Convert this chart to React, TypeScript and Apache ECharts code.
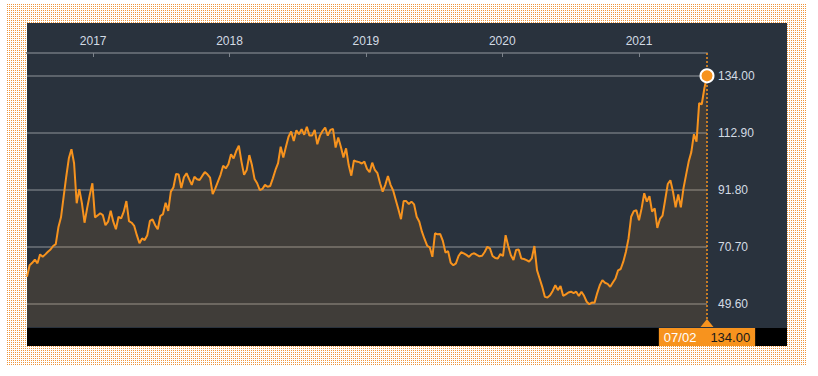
import React, { useEffect, useRef } from "react";
import * as echarts from "echarts";

// Weekly closes, first Friday 2016-07-08, last Friday 2021-07-02
const FIRST_WEEK = [2016, 6, 8];
const values = [
  59.7, 64.0, 64.9, 66.1, 64.7, 68.0, 67.1, 68.0, 69.0, 69.8, 71.1, 71.8, 78.0, 81.7, 89.3, 96.7,
  103.5, 106.9, 101.7, 86.9, 92.1, 86.9, 79.7, 85.1, 90.0, 94.3, 81.7, 82.4, 83.2, 82.5, 78.8, 80.1,
  84.1, 80.1, 77.3, 81.9, 81.3, 83.8, 87.7, 80.3, 79.7, 78.5, 75.1, 72.1, 73.9, 73.3, 75.1, 80.4,
  80.9, 78.8, 77.3, 82.2, 82.9, 87.1, 84.1, 91.2, 92.8, 97.7, 97.5, 92.5, 96.5, 98.0, 95.8, 93.7,
  96.7, 95.8,
  95.5, 97.0, 98.4, 97.6, 96.4, 90.3, 92.4, 94.9, 97.4, 100.8, 99.8, 101.3, 105.0, 103.5, 106.2, 108.2,
  102.3, 97.4, 99.2, 104.7, 101.0, 95.9, 94.3, 91.8, 92.2, 93.7, 93.0, 93.3, 96.1, 99.2, 101.7, 107.8,
  103.8, 107.8, 111.5, 113.4, 109.9, 113.9, 112.4, 114.3, 112.2, 115.2, 111.9, 111.9, 114.0, 108.7, 111.9, 113.6,
  114.9, 111.9, 114.0, 114.4, 107.5, 111.2, 107.8, 103.8, 107.2, 101.0, 97.1, 102.7, 102.3, 102.1, 101.6, 102.3,
  99.6, 98.4,
  101.9, 99.2, 98.0, 94.3, 91.2, 93.7, 97.0, 93.7, 91.6, 88.1, 84.7, 81.0, 87.7, 87.7, 86.6, 87.5,
  86.5, 81.9, 80.1, 76.4, 73.7, 71.2, 70.6, 67.1, 75.8, 75.4, 75.5, 73.0, 68.7, 69.2, 64.9, 64.0,
  64.7, 67.4, 68.8, 68.4, 67.8, 67.1, 68.1, 68.4, 67.8, 67.3, 67.5, 68.9, 70.8, 70.2, 67.4, 66.7,
  66.5, 68.1, 67.4, 75.1, 71.1, 67.7, 65.9, 69.6, 69.8, 66.5, 66.3, 65.9, 65.3, 66.5, 71.1,
  62.2, 59.1, 56.0, 52.3, 52.1, 52.9, 54.5, 56.6, 54.8, 56.3, 52.7, 53.2, 53.9, 54.2, 53.7, 54.2,
  52.6, 54.2, 52.7, 50.5, 49.6, 50.2, 50.1, 53.6, 56.6, 58.5, 57.5, 57.1, 56.0, 57.6, 59.1, 62.1,
  62.6, 65.3, 69.0, 73.9, 81.9, 84.0, 84.3, 80.6, 85.0, 90.6, 87.5, 89.5, 83.8, 85.0, 77.8, 81.1,
  82.3, 88.1, 94.0, 95.4, 91.2, 85.4, 90.2, 85.4, 92.4, 97.4, 102.3, 105.8, 112.4, 109.7, 123.9, 123.5,
  129.4, 134.0,
];
const yearLabels = [2017, 2018, 2019, 2020, 2021];
const yTicks = [49.6, 70.7, 91.8, 112.9, 134.0];
const lastDateLabel = "07/02";

const FONT = "'Liberation Sans', Arial, sans-serif";
const ORANGE = "#f7931e";
const TEXT = "#d3dbe4";

export default function App() {
  const ref = useRef<HTMLDivElement>(null);
  useEffect(() => {
    if (!ref.current) return;
    const chart = echarts.init(ref.current, null, { renderer: "svg" });
    const dates = values.map((_, i) =>
      new Date(FIRST_WEEK[0], FIRST_WEEK[1], FIRST_WEEK[2] + 7 * i).getTime()
    );
    const data = values.map((v, i) => [dates[i], v]);
    const lo = Math.min(...values);
    const hi = Math.max(...values);
    const pad = (hi - lo) * 0.1;
    const yMin = lo - pad;
    const yMax = hi + pad;
    const lastT = dates[dates.length - 1];
    const lastV = values[values.length - 1];
    const yearStarts = yearLabels.map((y) => new Date(y, 0, 1).getTime());

    chart.setOption({
      animation: false,
      grid: { left: 27, right: 111, top: 53, bottom: 49 },
      xAxis: {
        type: "value",
        position: "top",
        min: dates[0],
        max: lastT,
        axisLine: { show: true, lineStyle: { color: "#5e656e", width: 2 } },
        axisTick: {
          show: true,
          inside: true,
          length: 4,
          customValues: yearStarts,
          lineStyle: { color: "#7d838b", width: 1 },
        },
        axisLabel: {
          customValues: yearStarts,
          formatter: (v: number) => String(new Date(v).getFullYear()),
          color: TEXT,
          fontSize: 12,
          fontFamily: FONT,
          margin: 6,
        },
        splitLine: { show: false },
      },
      yAxis: {
        type: "value",
        position: "right",
        min: yMin,
        max: yMax,
        axisLine: { show: false },
        axisTick: { show: false, customValues: yTicks },
        axisLabel: {
          customValues: yTicks,
          formatter: (v: number) => v.toFixed(2),
          color: TEXT,
          fontSize: 12,
          fontFamily: FONT,
          margin: 11,
        },
        splitLine: { show: true, lineStyle: { color: "rgba(255,255,255,0.24)", width: 2 } },
      },
      series: [
        {
          type: "line",
          data,
          showSymbol: false,
          silent: true,
          lineStyle: { color: ORANGE, width: 2 },
          itemStyle: { color: ORANGE },
          areaStyle: { color: "rgba(247,147,30,0.16)", origin: "start" },
          markLine: {
            silent: true,
            symbol: "none",
            animation: false,
            lineStyle: { color: "rgba(247,147,30,0.75)", type: [2, 2], width: 2 },
            label: {
              show: true,
              position: "start",
              distance: 1,
              formatter: `{d|${lastDateLabel}}{v|${lastV.toFixed(2)}}`,
              backgroundColor: ORANGE,
              padding: [0, 5, 0, 5],
              rich: {
                d: { color: "#ffffff", fontSize: 13, fontFamily: FONT, lineHeight: 18, padding: [0, 14, 0, 0] },
                v: { color: "#1a1a1a", fontSize: 13, fontFamily: FONT, lineHeight: 18 },
              },
            },
            data: [{ xAxis: lastT }],
          },
          markPoint: {
            silent: true,
            animation: false,
            label: { show: false },
            data: [
              {
                coord: [lastT, yMin],
                symbol: "triangle",
                symbolSize: [13, 8],
                symbolOffset: [0, -4],
                itemStyle: { color: ORANGE },
              },
              {
                coord: [lastT, lastV],
                symbol: "circle",
                symbolSize: 13,
                itemStyle: { color: ORANGE, borderColor: "#ffffff", borderWidth: 2 },
              },
            ],
          },
        },
      ],
    });
    return () => chart.dispose();
  }, []);

  return (
    <div style={{ position: "absolute", left: 0, top: 0, width: 818, height: 376, background: "#fff" }}>
      <div
        style={{
          position: "absolute",
          left: 7,
          top: 4,
          width: 800,
          height: 362,
          backgroundColor: "#f0963c",
          backgroundImage:
            "linear-gradient(to right, transparent 1px, #ffffff 1px), linear-gradient(to bottom, transparent 1px, #ffffff 1px)",
          backgroundSize: "2px 2px",
        }}
      />
      <div style={{ position: "absolute", left: 27, top: 23, width: 760, height: 305, background: "#29323d" }} />
      <div style={{ position: "absolute", left: 27, top: 328, width: 760, height: 18, background: "#000" }} />
      <div ref={ref} style={{ position: "absolute", left: 0, top: 0, width: 818, height: 376 }} />
    </div>
  );
}
